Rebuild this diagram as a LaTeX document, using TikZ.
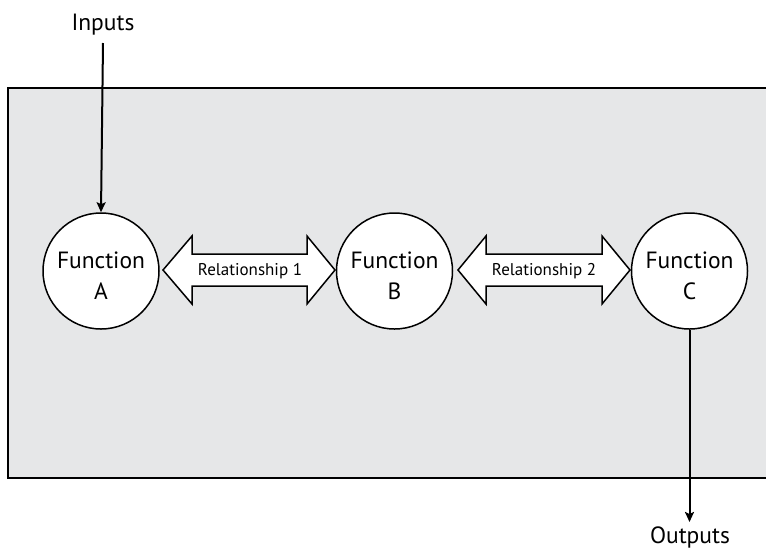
\documentclass[tikz,border=0pt]{standalone}
\usepackage{fontspec}
\setmainfont{PT Sans}
\usetikzlibrary{arrows.meta}
\definecolor{panel}{HTML}{E6E7E8}
\begin{document}
\begin{tikzpicture}[x=1pt,y=-1pt,
  func/.style={circle,draw,line width=1.5pt,fill=white,minimum size=116pt,inner sep=0pt},
  functext/.style={align=center,inner sep=0pt,font=\fontsize{23.5}{31}\selectfont},
  lbl/.style={font=\fontsize{23.5}{28}\selectfont,inner sep=0pt,anchor=base},
  rel/.style={font=\fontsize{17}{20}\selectfont,inner sep=0pt},
  flow/.style={line width=2pt,-{Stealth[length=10pt,width=9pt,inset=2pt]}},
  dblarrow/.style={draw,line width=1.5pt,fill=white,line join=miter}]
\useasboundingbox (0,0) rectangle (766,550);
% background panel
\draw[fill=panel,line width=2.2pt] (8,88) rectangle (780,478);

% functions
\node[func] (fa) at (101,271) {};
\node[func] (fb) at (394.5,271) {};
\node[func] (fc) at (689.5,271) {};
\node[functext] (fat) at ([yshift=-5]fa.center) {Function\\A};
\node[functext] (fbt) at ([yshift=-5]fb.center) {Function\\B};
\node[functext] (fct) at ([yshift=-5]fc.center) {Function\\C};

% relationship arrows
\draw[dblarrow] (163,270) -- (192,236) -- (192,254) -- (307,254) -- (307,236) -- (335,270)
  -- (307,304) -- (307,286) -- (192,286) -- (192,304) -- cycle;
\node[rel] (r1) at (250,271) {Relationship 1};
\draw[dblarrow] (458,270) -- (486,236) -- (486,254) -- (602,254) -- (602,236) -- (630,270)
  -- (602,304) -- (602,286) -- (486,286) -- (486,304) -- cycle;
\node[rel] (r2) at (544,271) {Relationship 2};

% inputs and outputs
\node[lbl] (in) at (103,30) {Inputs};
\node[lbl] (out) at (690,543) {Outputs};
\draw[flow] (in.south |- 0,43) coordinate (inTop) -- (fa.north);
\draw[flow] (fc.south) -- (fc.south |- 0,522) coordinate (outEnd);
\end{tikzpicture}
\end{document}
